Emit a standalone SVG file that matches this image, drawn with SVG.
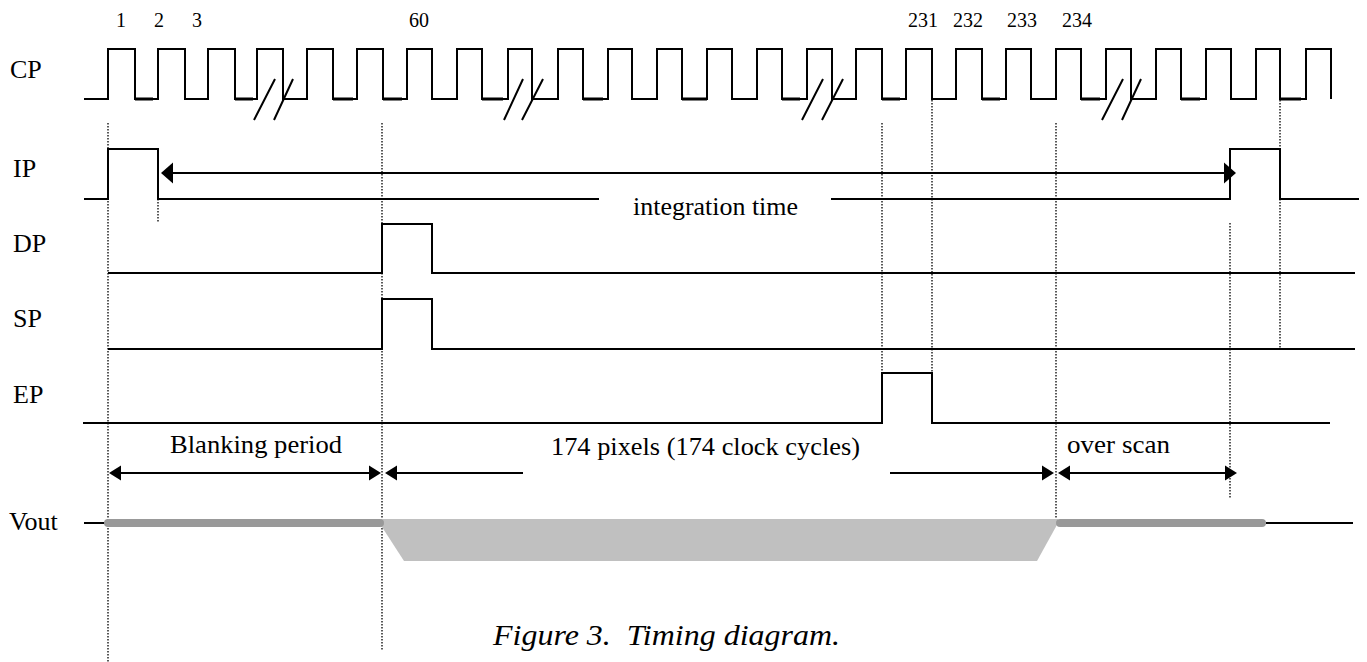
<svg xmlns="http://www.w3.org/2000/svg" width="1367" height="662" viewBox="0 0 1367 662">
<style>
.sig{fill:none;stroke:#000;stroke-width:2}
.thk{fill:none;stroke:#000;stroke-width:3}
.dot{fill:none;stroke:#000;stroke-width:1.3;stroke-dasharray:1.5 1.5}
.arr{fill:none;stroke:#000;stroke-width:2}
.brk{fill:none;stroke:#000;stroke-width:2}
text{font-family:'Liberation Serif','Times New Roman',Times,serif}
.lbl{font-size:26px;fill:#000}
.num{font-size:20px;fill:#000;text-anchor:middle}
.cap{font-size:30px;font-style:italic;fill:#000;white-space:pre}
</style>
<defs>
<marker id="bigArrow" markerUnits="userSpaceOnUse" markerWidth="12" markerHeight="21" refX="0" refY="10.5" orient="auto-start-reverse" overflow="visible">
<path d="M0,0 L12,10.5 L0,21 Z" fill="#000"/>
</marker>
<marker id="arrow" markerUnits="userSpaceOnUse" markerWidth="12" markerHeight="15" refX="0" refY="7.5" orient="auto-start-reverse" overflow="visible">
<path d="M0,0 L12,7.5 L0,15 Z" fill="#000"/>
</marker>
</defs>
<rect width="1367" height="662" fill="#fff"/>

<g id="guides">
<line class="dot" x1="108" y1="123" x2="108" y2="662"/>
<line class="dot" x1="382" y1="123" x2="382" y2="650"/>
<line class="dot" x1="158" y1="199" x2="158" y2="223"/>
<line class="dot" x1="882" y1="123" x2="882" y2="373"/>
<line class="dot" x1="932" y1="100" x2="932" y2="373"/>
<line class="dot" x1="1056" y1="123" x2="1056" y2="520"/>
<line class="dot" x1="1230" y1="223" x2="1230" y2="498"/>
<line class="dot" x1="1280" y1="100" x2="1280" y2="349"/>
</g>

<g id="cp">
<text class="lbl" x="10" y="78" font-family="Liberation Serif, serif">CP</text>
<path class="sig" d="M84,99 H108 V49 H135 V99 H158 V49 H185 V99 H208 V49 H235 V99 H257 V49 H283 V99 H307 V49 H333 V99 H357 V49 H383 V99 H407 V49 H432 V99 H457 V49 H482 V99 H508 V49 H532 V99 H558 V49 H583 V99 H608 V49 H632 V99 H657 V49 H682 V99 H707 V49 H732 V99 H757 V49 H782 V99 H807 V49 H832 V99 H856 V49 H882 V99 H906 V49 H932 V99 H956 V49 H982 V99 H1006 V49 H1031 V99 H1056 V49 H1081 V99 H1106 V49 H1131 V99 H1156 V49 H1181 V99 H1206 V49 H1231 V99 H1256 V49 H1280 V99 H1306 V49 H1331 V99"/>
<path class="thk" d="M135,99 H153 M235,99 H253 M333,99 H353 M383,99 H402 M482,99 H503 M583,99 H603 M682,99 H707 M782,99 H800 M882,99 H900 M982,99 H1000 M1081,99 H1100 M1181,99 H1200 M1280,99 H1301"/>
<path class="brk" d="M254,120 L275,79 M274,120 L293,79 M504,120 L523,79 M522,120 L543,79 M802,120 L823,79 M822,120 L843,79 M1102,120 L1123,79 M1122,120 L1141,79"/>
<text class="num" x="121" y="27">1</text>
<text class="num" x="159" y="27">2</text>
<text class="num" x="197" y="27">3</text>
<text class="num" x="419" y="27">60</text>
<text class="num" x="923" y="27">231</text>
<text class="num" x="968" y="27">232</text>
<text class="num" x="1022" y="27">233</text>
<text class="num" x="1077" y="27">234</text>
</g>

<g id="ip">
<text class="lbl" x="13" y="177">IP</text>
<path class="sig" d="M84,199 H108 V149 H158 V199 H599"/>
<path class="sig" d="M831,199 H1230 V149 H1280 V199 H1359"/>
<text class="lbl" x="633" y="215" textLength="165" lengthAdjust="spacingAndGlyphs">integration time</text>
</g>

<g id="dp">
<text class="lbl" x="13" y="252">DP</text>
<path class="sig" d="M108,273 H382 V224 H432 V273 H1355"/>
</g>

<g id="sp">
<text class="lbl" x="13" y="327">SP</text>
<path class="sig" d="M108,349 H382 V299 H432 V349 H1355"/>
</g>

<g id="ep">
<text class="lbl" x="13" y="403">EP</text>
<path class="sig" d="M83,423 H882 V373 H932 V423 H1330"/>
</g>

<g id="vout">
<text class="lbl" x="9" y="530">Vout</text>
<line class="sig" x1="84" y1="523" x2="108" y2="523"/>
<polygon points="381,519 1058,519 1058,523 1037,561 404,561 382,527" fill="#c0c0c0"/>
<line x1="108" y1="523" x2="380" y2="523" stroke="#999" stroke-width="8" stroke-linecap="round"/>
<line x1="1060" y1="523" x2="1262" y2="523" stroke="#999" stroke-width="8" stroke-linecap="round"/>
<line class="sig" x1="1266" y1="523" x2="1353" y2="523"/>
</g>

<g id="connectors">
<line class="arr" x1="173" y1="173" x2="1224" y2="173" marker-start="url(#bigArrow)" marker-end="url(#bigArrow)"/>
<line class="arr" x1="121" y1="473" x2="369" y2="473" marker-start="url(#arrow)" marker-end="url(#arrow)"/>
<line class="arr" x1="397" y1="473" x2="523" y2="473" marker-start="url(#arrow)"/>
<line class="arr" x1="890" y1="473" x2="1042" y2="473" marker-end="url(#arrow)"/>
<line class="arr" x1="1070" y1="473" x2="1225" y2="473" marker-start="url(#arrow)" marker-end="url(#arrow)"/>
</g>

<g id="labels">
<text class="lbl" x="170" y="453" textLength="172" lengthAdjust="spacingAndGlyphs">Blanking period</text>
<text class="lbl" x="551" y="455" textLength="309" lengthAdjust="spacingAndGlyphs">174 pixels (174 clock cycles)</text>
<text class="lbl" x="1067" y="453" textLength="103" lengthAdjust="spacingAndGlyphs">over scan</text>
<text class="cap" x="493" y="645" textLength="347" lengthAdjust="spacingAndGlyphs">Figure 3.  Timing diagram.</text>
</g>
</svg>
